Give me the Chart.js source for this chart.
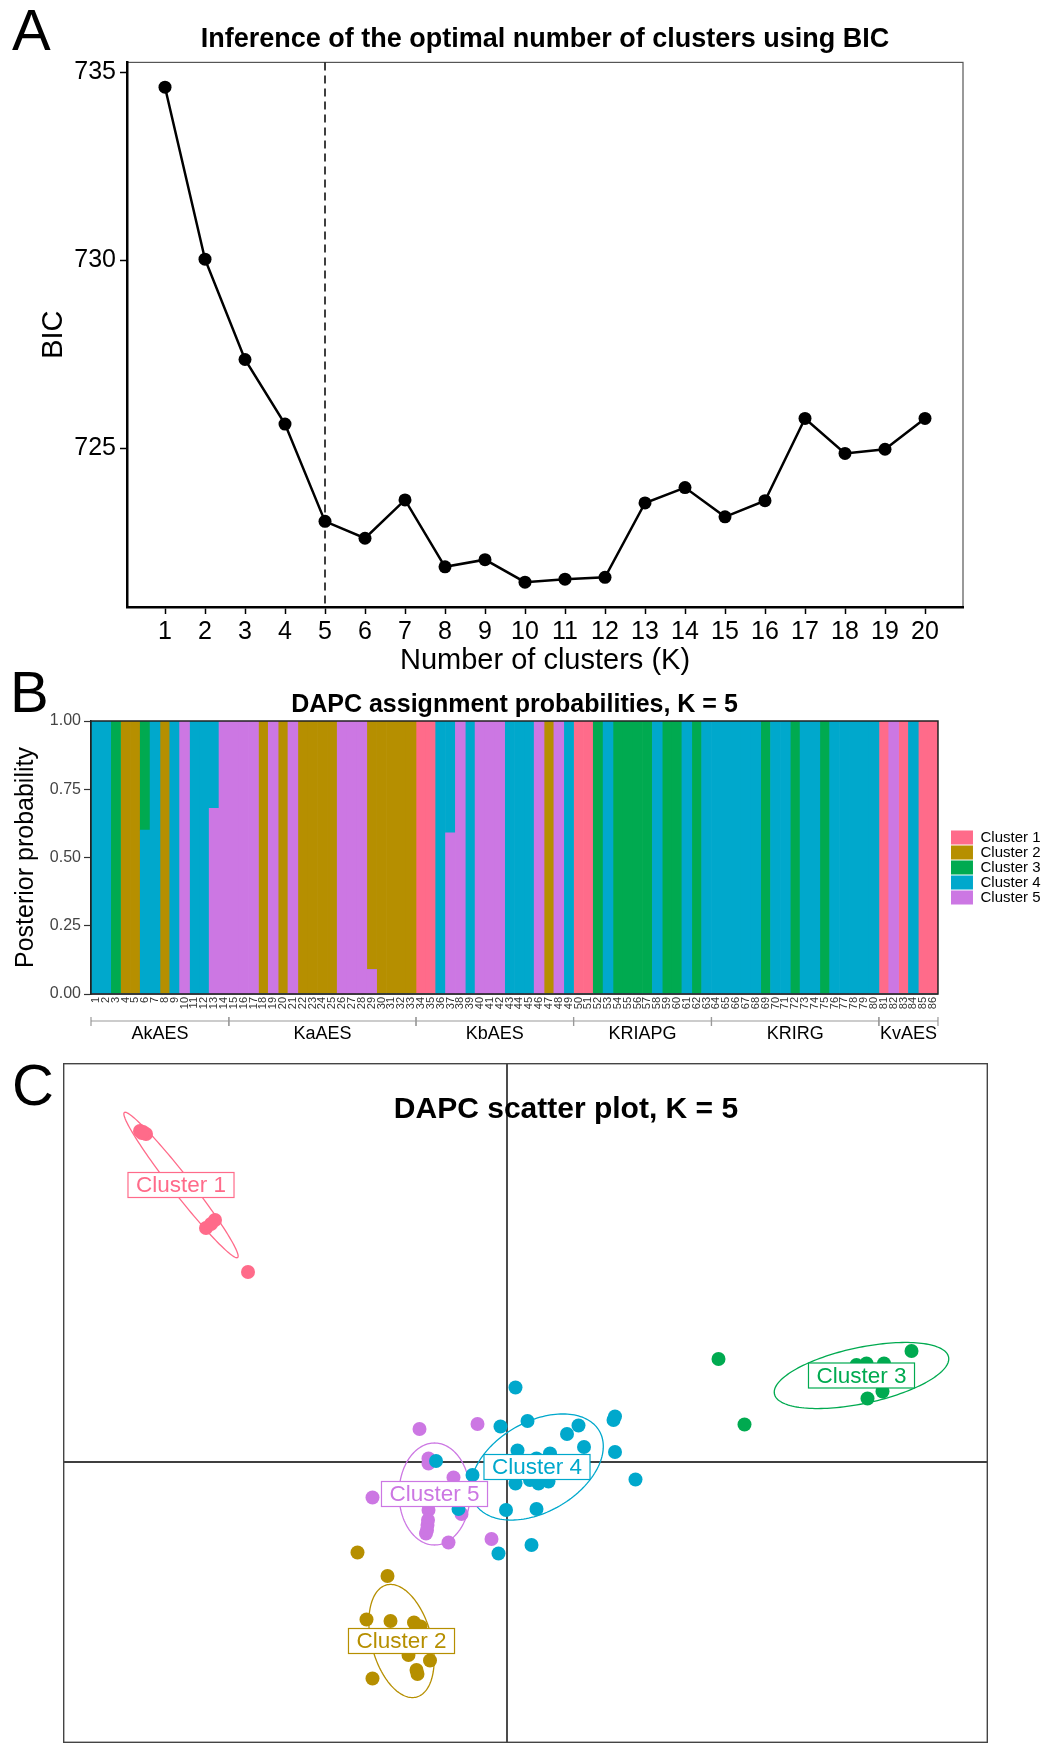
<!DOCTYPE html>
<html>
<head>
<meta charset="utf-8">
<script src="https://cdn.jsdelivr.net/npm/chart.js@4.4.1/dist/chart.umd.min.js"></script>
<style>
  body { margin: 0; background: #fff; }
  #page { position: relative; width: 1053px; height: 1763px; overflow: hidden; font-family: "Liberation Sans", Arial, sans-serif; }
  .panel { position: absolute; }
  .letter { position: absolute; font-size: 58px; line-height: 58px; color: #000; }
  #titleC { position: absolute; left: 266px; width: 600px; top: 1090px; line-height: 36px; text-align: center; font-weight: bold; font-size: 30px; color: #000; }
</style>
</head>
<body>
<div id="page">
  <div class="panel" style="left:0;top:0;width:1053px;height:690px"><canvas id="chartA"></canvas></div>
  <div class="panel" style="left:0;top:690px;width:1053px;height:355px"><canvas id="chartB"></canvas></div>
  <div class="panel" style="left:63px;top:1063px;width:925px;height:680px"><canvas id="chartC"></canvas></div>
  <div id="titleC">DAPC scatter plot, K = 5</div>
  <div class="letter" style="left:12px;top:1px">A</div>
  <div class="letter" style="left:10px;top:663px">B</div>
  <div class="letter" style="left:12px;top:1056px">C</div>
</div>
<script>
// ---- panel A : BIC per K
var aK = [1, 2, 3, 4, 5, 6, 7, 8, 9, 10, 11, 12, 13, 14, 15, 16, 17, 18, 19, 20];
var aBic = [734.61, 730.03, 727.36, 725.64, 723.05, 722.60, 723.62, 721.84, 722.03, 721.43,
            721.51, 721.56, 723.54, 723.95, 723.17, 723.60, 725.79, 724.86, 724.97, 725.79];
var aYTicks = [725, 730, 735];
var aChosenK = 5;

// ---- panel B : assignment probabilities
var bLabels = ['1','2','3','4','5','6','7','8','9','10','11','12','13','14','15','16','17','18','19','20',
  '21','22','23','24','25','26','27','28','29','30','31','32','33','34','35','36','37','38','39','40',
  '41','42','43','44','45','46','47','48','49','50','51','52','53','54','55','56','57','58','59','60',
  '61','62','63','64','65','66','67','68','69','70','71','72','73','74','75','76','77','78','79','80',
  '81','82','83','84','85','86'];
// dominant cluster of each individual
var bCluster = [4,4,3,2,2,4,4,2,4,5,4,4,5,5,
  5,5,5,2,5,2,5,2,2,2,2,5,5,5,2,2,2,2,2,
  1,1,4,5,5,4,5,5,5,4,4,4,5,2,5,4,
  1,1,3,4,3,3,3,3,4,3,3,4,3,4,
  4,4,4,4,4,3,4,4,3,4,4,3,4,4,4,4,4,
  1,5,1,4,1,1];
// individuals with split membership
var bMixed = {
  6: {4: 0.60, 3: 0.40},
  13: {5: 0.68, 4: 0.32},
  29: {5: 0.09, 2: 0.91},
  37: {5: 0.59, 4: 0.41}
};
var bYTicks = [0, 0.25, 0.5, 0.75, 1];
var bGroups = ['AkAES', 'KaAES', 'KbAES', 'KRIAPG', 'KRIRG', 'KvAES'];
var bGroupStart = [1, 15, 34, 50, 64, 81];
var bGroupEnd = [14, 33, 49, 63, 80, 86];

var clusterNames = ['Cluster 1', 'Cluster 2', 'Cluster 3', 'Cluster 4', 'Cluster 5'];
var clusterColors = ['#FF6B8A', '#B68F00', '#00AA50', '#00A8CC', '#CC77E3'];

// ---- panel C : DAPC scatter (LD1, LD2)
var c1 = [[-7.34,6.62],[-7.22,6.56],[-7.28,6.60],[-7.30,6.58],[-5.84,4.84],[-6.02,4.68],[-5.92,4.76],[-5.18,3.80]];
var c2 = [[-2.99,-1.81],[-2.39,-2.28],[-2.81,-3.15],[-2.33,-3.18],[-1.86,-3.21],[-1.73,-3.29],[-1.97,-3.86],
  [-1.54,-3.97],[-1.81,-4.16],[-1.79,-4.24],[-2.69,-4.33],[-2.40,-3.55],[-2.10,-3.60],[-1.85,-3.62],[-2.25,-3.66]];
var c3 = [[4.23,2.06],[4.75,0.75],[8.09,2.22],[6.99,1.94],[7.19,1.97],[7.54,1.97],[7.51,1.41],[7.21,1.27],
  [7.26,1.74],[6.86,1.70],[7.46,1.76],[7.36,1.68]];
var c4 = [[0.17,1.49],[-0.13,0.71],[0.41,0.82],[2.16,0.91],[2.13,0.84],[1.43,0.73],[1.20,0.56],[1.54,0.30],
  [2.16,0.20],[0.21,0.23],[0.86,0.17],[0.59,0.07],[-1.42,0.02],[-0.69,-0.26],[0.17,-0.43],[0.46,-0.36],
  [0.63,-0.43],[0.83,-0.39],[2.57,-0.35],[-0.02,-0.96],[0.59,-0.94],[-0.97,-0.94],[0.49,-1.66],[-0.17,-1.83],
  [0.30,-0.12],[0.75,-0.15],[1.05,-0.10],[0.55,-0.20],[1.30,-0.12],[0.95,-0.18],[0.65,-0.05],[1.20,-0.18]];
var c5 = [[-1.75,0.66],[-0.59,0.76],[-1.57,0.07],[-1.57,-0.03],[-1.07,-0.31],[-2.69,-0.71],[-1.57,-0.96],
  [-0.91,-1.04],[-1.59,-1.26],[-1.62,-1.43],[-1.17,-1.61],[-0.31,-1.54],[-1.54,-0.62],[-1.24,-0.66],
  [-1.74,-0.64],[-1.04,-0.60],[-1.58,-1.16],[-1.60,-1.36],[-1.54,0.02]];
// inertia ellipses and label spots
var cCenterX = [-6.52, -2.11, 7.09, 0.60, -1.45];
var cCenterY = [5.54, -3.58, 1.73, -0.10, -0.64];
var cAxisA = [1.84, 1.16, 1.78, 1.44, 1.02];
var cAxisB = [0.19, 0.60, 0.56, 0.90, 0.71];
var cAngle = [-52, -75, 12, 30, 90];

Chart.defaults.font.family = '"Liberation Sans", Arial, sans-serif';
Chart.defaults.color = '#000';
Chart.defaults.animation = false;

// ================= A
var frameA = {
  id: 'frameA',
  beforeDraw: function(chart) {
    var a = chart.chartArea, ctx = chart.ctx;
    ctx.save();
    ctx.strokeStyle = '#555';
    ctx.lineWidth = 1.2;
    ctx.strokeRect(a.left, a.top, a.right - a.left, a.bottom - a.top);
    ctx.restore();
  },
  beforeDatasetsDraw: function(chart) {
    var a = chart.chartArea, ctx = chart.ctx;
    var x = chart.scales.x.getPixelForValue(aChosenK);
    ctx.save();
    ctx.strokeStyle = '#000';
    ctx.lineWidth = 1.5;
    ctx.setLineDash([8, 5]);
    ctx.beginPath();
    ctx.moveTo(x, a.top);
    ctx.lineTo(x, a.bottom);
    ctx.stroke();
    ctx.restore();
  }
};

new Chart(document.getElementById('chartA'), {
  type: 'line',
  data: {
    datasets: [{
      data: aK.map(function(k, i) { return {x: k, y: aBic[i]}; }),
      borderColor: '#000',
      borderWidth: 2.5,
      pointRadius: 6.5,
      pointBackgroundColor: '#000',
      pointBorderWidth: 0,
      tension: 0
    }]
  },
  options: {
    responsive: true,
    maintainAspectRatio: false,
    layout: {padding: {left: 0, right: 90, top: 0, bottom: 0}},
    plugins: {
      legend: {display: false},
      tooltip: {enabled: false},
      title: {
        display: true,
        text: 'Inference of the optimal number of clusters using BIC',
        fullSize: false,
        font: {size: 27, weight: 'bold'},
        color: '#000',
        padding: {top: 23, bottom: 7}
      }
    },
    scales: {
      x: {
        type: 'linear', min: 0.05, max: 20.95,
        afterBuildTicks: function(s) { s.ticks = aK.map(function(v) { return {value: v}; }); },
        afterFit: function(s) { s.height = 83; },
        grid: {drawOnChartArea: false, drawTicks: true, tickLength: 7, tickWidth: 1.5, tickColor: '#000'},
        border: {display: true, color: '#000', width: 2.5},
        ticks: {font: {size: 25}, color: '#000', padding: 3, autoSkip: false, maxRotation: 0},
        title: {display: true, text: 'Number of clusters (K)', font: {size: 29}, color: '#000', padding: {top: 0, bottom: 12}}
      },
      y: {
        type: 'linear', min: 720.77, max: 735.27,
        afterBuildTicks: function(s) { s.ticks = aYTicks.map(function(v) { return {value: v}; }); },
        afterFit: function(s) { s.width = 127; },
        grid: {drawOnChartArea: false, drawTicks: true, tickLength: 7, tickWidth: 1.5, tickColor: '#000'},
        border: {display: true, color: '#000', width: 2.5},
        ticks: {font: {size: 25}, color: '#000', padding: 4},
        title: {display: true, text: 'BIC', font: {size: 29}, color: '#000', padding: {top: 37, bottom: 0}}
      }
    }
  },
  plugins: [frameA]
});

// ================= B
var bDatasets = [5, 4, 3, 2, 1].map(function(c) {
  return {
    label: clusterNames[c - 1],
    data: bCluster.map(function(k, i) {
      var m = bMixed[i + 1];
      if (m) return m[c] || 0;
      return k === c ? 1 : 0;
    }),
    backgroundColor: clusterColors[c - 1],
    borderWidth: 0,
    barPercentage: 1,
    categoryPercentage: 1,
    xAxisID: 'x',
    yAxisID: 'y'
  };
});

var decorB = {
  id: 'decorB',
  afterDatasetsDraw: function(chart) {
    var a = chart.chartArea, ctx = chart.ctx;
    ctx.save();
    ctx.strokeStyle = '#222';
    ctx.lineWidth = 1.5;
    ctx.strokeRect(a.left, a.top, a.right - a.left, a.bottom - a.top);
    ctx.restore();
  },
  afterDraw: function(chart) {
    var s = chart.scales.xg, ctx = chart.ctx;
    var y = s.top + 1;
    ctx.save();
    ctx.strokeStyle = '#999';
    ctx.lineWidth = 1.2;
    bGroupStart.forEach(function(st, i) {
      var x0 = s.getPixelForValue(st - 0.5);
      var x1 = s.getPixelForValue(bGroupEnd[i] + 0.5);
      ctx.beginPath();
      ctx.moveTo(x0, y); ctx.lineTo(x1, y);
      ctx.moveTo(x0, y - 4); ctx.lineTo(x0, y + 5);
      ctx.moveTo(x1, y - 4); ctx.lineTo(x1, y + 5);
      ctx.stroke();
    });
    ctx.restore();
  }
};

new Chart(document.getElementById('chartB'), {
  type: 'bar',
  data: {labels: bLabels, datasets: bDatasets},
  options: {
    responsive: true,
    maintainAspectRatio: false,
    layout: {padding: {left: 0, right: 2.5, top: 0, bottom: 0}},
    plugins: {
      title: {
        display: true,
        text: 'DAPC assignment probabilities, K = 5',
        fullSize: false,
        font: {size: 25, weight: 'bold'},
        color: '#000',
        padding: {top: 0, bottom: 1}
      },
      legend: {
        display: true,
        position: 'right',
        reverse: true,
        fullSize: true,
        labels: {boxWidth: 22, boxHeight: 14, padding: 0, font: {size: 15}, color: '#000'}
      },
      tooltip: {enabled: false}
    },
    scales: {
      x: {
        stacked: true,
        position: 'bottom',
        afterFit: function(s) { s.height = 26; },
        grid: {display: false, drawTicks: false},
        border: {display: true, color: '#222', width: 1.5},
        ticks: {font: {size: 11}, color: '#333', autoSkip: false, maxRotation: 90, minRotation: 90, padding: 3}
      },
      xg: {
        type: 'linear',
        position: 'bottom',
        offset: false,
        min: 0.5, max: 86.5,
        afterBuildTicks: function(s) {
          s.ticks = bGroupStart.map(function(st, i) { return {value: (st + bGroupEnd[i]) / 2}; });
        },
        afterFit: function(s) { s.height = 25; },
        grid: {display: false, drawTicks: false, offset: false},
        border: {display: false},
        ticks: {
          font: {size: 18}, color: '#000', padding: 3, autoSkip: false, maxRotation: 0,
          callback: function(v, i) { return bGroups[i]; }
        }
      },
      y: {
        stacked: true,
        min: 0, max: 1,
        afterBuildTicks: function(s) { s.ticks = bYTicks.map(function(v) { return {value: v}; }); },
        afterFit: function(s) { s.width = 91; },
        grid: {drawOnChartArea: false, drawTicks: true, tickLength: 7, tickColor: '#333', tickWidth: 1.2},
        border: {display: true, color: '#222', width: 1.5},
        ticks: {font: {size: 16}, color: '#444', padding: 3, callback: function(v) { return v.toFixed(2); }},
        title: {display: true, text: 'Posterior probability', font: {size: 25}, color: '#000', padding: {top: 11, bottom: 0}}
      },
      yr: {
        type: 'linear',
        position: 'right',
        display: true,
        afterFit: function(s) { s.width = 13; },
        grid: {display: false, drawTicks: false},
        ticks: {display: false},
        border: {display: false}
      }
    }
  },
  plugins: [decorB]
});

// ================= C
var decorC = {
  id: 'decorC',
  beforeDatasetsDraw: function(chart) {
    var a = chart.chartArea, ctx = chart.ctx;
    var xs = chart.scales.x, ys = chart.scales.y;
    ctx.save();
    // zero lines
    ctx.strokeStyle = '#000';
    ctx.lineWidth = 1.4;
    var x0 = xs.getPixelForValue(0), y0 = ys.getPixelForValue(0);
    ctx.beginPath();
    ctx.moveTo(x0, a.top); ctx.lineTo(x0, a.bottom);
    ctx.moveTo(a.left, y0); ctx.lineTo(a.right, y0);
    ctx.stroke();
    // ellipses
    for (var i = 0; i < cCenterX.length; i++) {
      var th = cAngle[i] * Math.PI / 180;
      ctx.beginPath();
      for (var j = 0; j <= 160; j++) {
        var t = j / 160 * 2 * Math.PI;
        var dx = cAxisA[i] * Math.cos(t), dy = cAxisB[i] * Math.sin(t);
        var X = cCenterX[i] + dx * Math.cos(th) - dy * Math.sin(th);
        var Y = cCenterY[i] + dx * Math.sin(th) + dy * Math.cos(th);
        var px = xs.getPixelForValue(X), py = ys.getPixelForValue(Y);
        if (j === 0) ctx.moveTo(px, py); else ctx.lineTo(px, py);
      }
      ctx.closePath();
      ctx.strokeStyle = clusterColors[i];
      ctx.lineWidth = 1.3;
      ctx.stroke();
    }
    ctx.restore();
  },
  afterDatasetsDraw: function(chart) {
    var ctx = chart.ctx;
    var xs = chart.scales.x, ys = chart.scales.y;
    ctx.save();
    ctx.font = '22.5px "Liberation Sans", Arial, sans-serif';
    ctx.textAlign = 'center';
    ctx.textBaseline = 'middle';
    for (var i = 0; i < cCenterX.length; i++) {
      var px = xs.getPixelForValue(cCenterX[i]), py = ys.getPixelForValue(cCenterY[i]);
      var w = ctx.measureText(clusterNames[i]).width + 16, h = 25;
      ctx.fillStyle = '#fff';
      ctx.fillRect(px - w / 2, py - h / 2, w, h);
      ctx.strokeStyle = clusterColors[i];
      ctx.lineWidth = 1.2;
      ctx.strokeRect(px - w / 2, py - h / 2, w, h);
      ctx.fillStyle = clusterColors[i];
      ctx.fillText(clusterNames[i], px, py + 1);
    }
    ctx.restore();
  },
  afterDraw: function(chart) {
    var a = chart.chartArea, ctx = chart.ctx;
    ctx.save();
    ctx.strokeStyle = '#444';
    ctx.lineWidth = 1.4;
    ctx.strokeRect(a.left + 0.7, a.top + 0.7, a.right - a.left - 1.4, a.bottom - a.top - 1.4);
    ctx.restore();
  }
};

new Chart(document.getElementById('chartC'), {
  type: 'scatter',
  data: {
    datasets: [c1, c2, c3, c4, c5].map(function(pts, i) {
      return {
        label: clusterNames[i],
        data: pts.map(function(p) { return {x: p[0], y: p[1]}; }),
        backgroundColor: clusterColors[i],
        borderWidth: 0,
        pointRadius: 7,
        pointHoverRadius: 7
      };
    })
  },
  options: {
    responsive: true,
    maintainAspectRatio: false,
    layout: {padding: 0, autoPadding: false},
    plugins: {legend: {display: false}, tooltip: {enabled: false}},
    scales: {
      x: {type: 'linear', display: false, min: -8.88, max: 9.62},
      y: {type: 'linear', display: false, min: -5.62, max: 7.98}
    }
  },
  plugins: [decorC]
});
</script>
</body>
</html>
